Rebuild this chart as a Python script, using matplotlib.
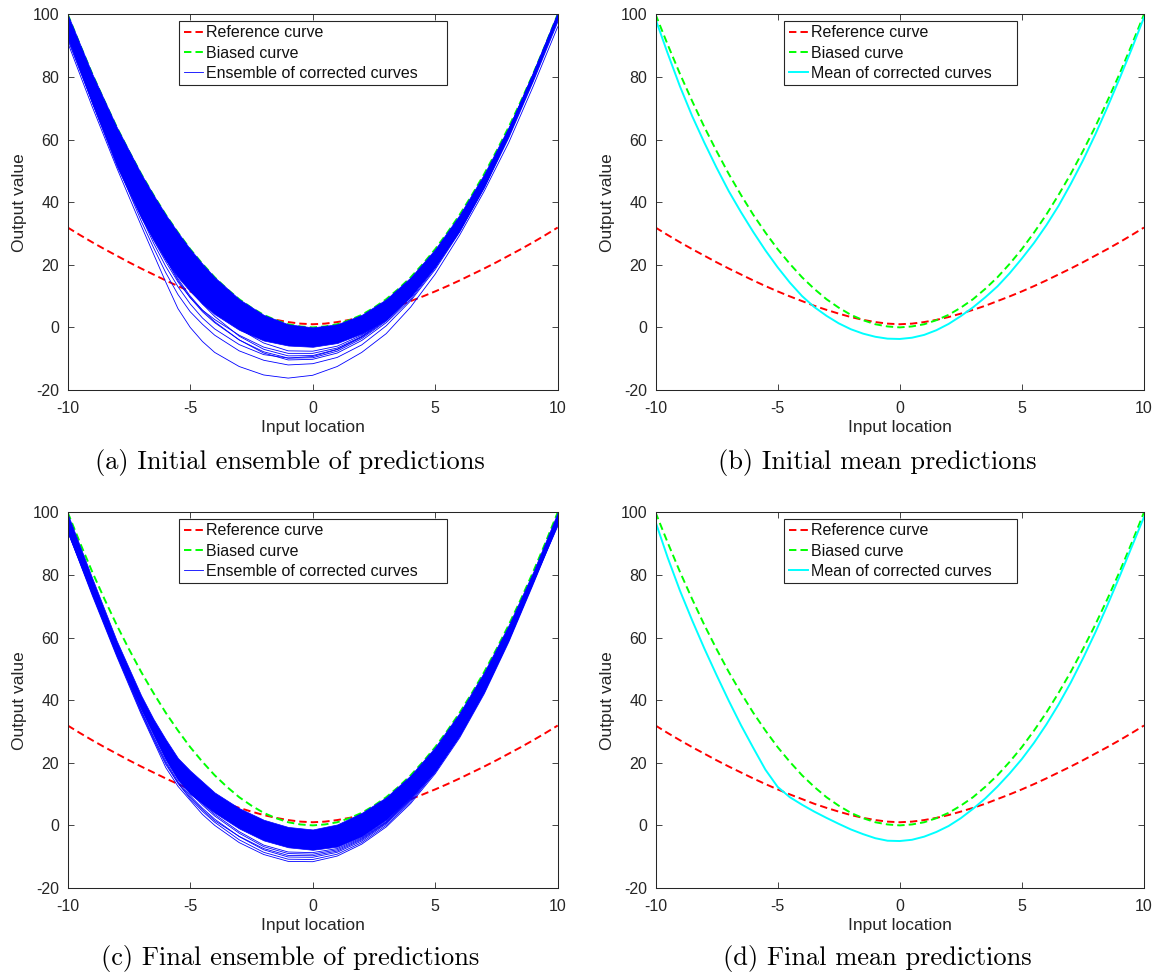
import numpy as np
import matplotlib
matplotlib.use("Agg")
import matplotlib.pyplot as plt

plt.rcParams['font.family'] = ['Liberation Sans', 'DejaVu Sans']
plt.rcParams['axes.unicode_minus'] = False

# x grids
x_fine = np.linspace(-10, 10, 41)
x_ens = [-10, -9, -8, -7, -6.5, -6, -5.5, -5, -4.5, -4, -3, -2, -1, 0, 1, 2, 3, 4, 5, 6, 7, 8, 9, 10]

# reference and biased curves (read on x_fine)
ref_curve = [31.9, 29.5, 27.2, 25.0, 22.9, 20.8, 18.8, 16.9, 15.0, 13.2, 11.5, 9.9, 8.4, 6.9, 5.6, 4.4, 3.3, 2.4, 1.7, 1.2,
             1.0,
             1.2, 1.7, 2.4, 3.3, 4.4, 5.6, 6.9, 8.4, 9.9, 11.5, 13.2, 15.0, 16.9, 18.8, 20.8, 22.9, 25.0, 27.2, 29.5, 31.9]
biased_curve = [100, 90.3, 81, 72.3, 64, 56.3, 49, 42.3, 36, 30.3, 25, 20.3, 16, 12.3, 9, 6.3, 4, 2.3, 1, 0.3,
                0,
                0.3, 1, 2.3, 4, 6.3, 9, 12.3, 16, 20.3, 25, 30.3, 36, 42.3, 49, 56.3, 64, 72.3, 81, 90.3, 100]

# mean of corrected curves
mean_initial = [98.5, 87.5, 77.0, 67.5, 59.0, 51.0, 43.5, 36.8, 30.5, 24.6, 19.2, 14.3, 10.0, 6.5, 3.7, 1.3, -0.6, -2.0, -3.0, -3.6,
                -3.7,
                -3.3, -2.4, -0.9, 1.1, 3.6, 6.4, 9.6, 13.1, 17.3, 22.0, 27.0, 32.6, 38.8, 45.8, 53.3, 61.5, 70.3, 79.5, 89.0, 99.0]
mean_final = [97.0, 85.5, 75.0, 65.5, 56.5, 48.0, 39.8, 32.0, 24.8, 17.8, 12.3, 9.0, 6.6, 4.4, 2.4, 0.5, -1.3, -2.8, -4.1, -4.9,
              -5.0,
              -4.6, -3.6, -2.1, -0.2, 2.3, 5.3, 8.6, 12.4, 16.6, 21.2, 26.4, 32.2, 38.6, 45.6, 53.3, 61.5, 70.3, 79.5, 89.0, 98.5]

# initial ensemble: dense band envelope + outlying members (read on x_ens)
band_a_upper = [100, 81, 64, 49, 42.3, 36, 30.3, 25, 20.3, 16, 9, 4, 1, 0, 1, 4, 9, 16, 25, 36, 49, 64, 81, 100]
band_a_lower = [93.5, 71.5, 51.5, 35, 28, 21.5, 16, 11.5, 7.5, 4.2, -0.8, -4.2, -5.8, -6.2, -5, -2, 2.5, 10, 19.5, 31, 45, 61.5, 79.5, 98.5]
ens_a = [
    [91, 70.5, 51, 32.5, 23.5, 14.5, 6, 0, -4.5, -8, -12.5, -15.2, -16.2, -15.3, -12.5, -8, -2, 6.5, 17, 29.5, 43.5, 59, 77, 96],
    [92, 72, 52.5, 34, 25.5, 17.5, 10.5, 5, 1, -2.5, -7.5, -10.5, -12, -11.6, -9.6, -5.6, 0.5, 8.5, 18.5, 30.5, 44.5, 60.5, 78.5, 97.5],
    [93, 73, 54, 37, 29, 22, 15.5, 10, 5.5, 1.8, -4, -8.2, -10.4, -10.2, -8.2, -4.2, 1.5, 9, 19, 31, 45, 61, 79, 98.5],
    [93.5, 73.5, 54.5, 37.5, 29.5, 22, 15, 9.5, 5, 1.5, -4, -7.8, -9.8, -9.7, -7.6, -3.6, 2, 9.5, 19.5, 31.5, 45.5, 61.5, 79.5, 99],
    [94, 74, 55.5, 39, 31, 24, 17.5, 12, 7.5, 3.5, -2.8, -7, -9.1, -9, -7, -3, 2.5, 10, 20, 32, 46, 62.5, 80.5, 99.5],
    [92.5, 72, 53, 36, 28, 21, 14.5, 9.5, 5.5, 2.5, -2.5, -6.3, -8.3, -8.3, -6.6, -2.9, 2.8, 10.5, 20.5, 32.5, 46.5, 63, 81, 100],
    [94.5, 75, 57, 40.5, 33, 26, 19.5, 14, 9.5, 5.5, -0.5, -5, -7.5, -7.6, -6, -2.5, 3, 10.5, 20.5, 32.5, 46.5, 63, 81, 100],
    [93, 72.5, 53, 35.5, 27, 19.5, 13, 7.5, 3, -0.5, -5.5, -8.7, -9.8, -9.3, -7.1, -3.2, 2.2, 9.8, 19.5, 31, 45, 61.5, 79.5, 98.5],
]

# final ensemble (read on x_ens)
band_c_upper = [99.5, 79, 59, 41.5, 34, 27.5, 21.5, 17.5, 14, 10.5, 5.5, 1.8, -0.5, -1.3, 0.3, 4, 9, 16, 25, 36, 49, 64, 81, 100]
band_c_lower = [93.5, 74, 54.5, 37, 29, 21, 14.5, 10, 7, 4, -1, -4.8, -7, -7.8, -6.8, -3.5, 1.8, 9, 17.5, 29, 43, 59.5, 78, 96]
ens_c = [
    [94, 73.5, 54, 35.5, 27, 18.5, 12.5, 8, 3.5, 0, -5.5, -9.3, -11.5, -11.6, -9.8, -6, -0.5, 7, 16.5, 28, 42, 58.5, 77, 96],
    [94.5, 74, 54.5, 36, 27.5, 19.5, 13.5, 8.5, 4.5, 1, -4.6, -8.6, -10.8, -10.9, -9.2, -5.5, 0, 7.5, 17, 28.5, 42.5, 59, 77.5, 96.5],
    [95, 74.5, 55, 36.5, 28.5, 20.5, 14, 9.5, 5.5, 2, -3.6, -7.8, -10.1, -10.2, -8.6, -5, 0.5, 8, 17, 28.5, 42.5, 59, 77.5, 96.5],
    [94, 74, 54.5, 36.5, 28, 20, 13.5, 9, 5, 1.5, -3.5, -7.4, -9.6, -9.7, -8.2, -4.6, 0.8, 8.3, 17.5, 29, 43, 59.5, 78, 97],
    [95.5, 75, 55.5, 37.5, 29.5, 21.5, 15, 10.5, 6.5, 3, -2.5, -6.8, -9.0, -9.2, -7.8, -4.3, 1.0, 8.5, 17.5, 29, 43, 59.5, 78, 97],
    [95, 75, 55.5, 38, 30, 22, 15.5, 10.8, 7, 3.5, -2, -6.3, -8.5, -8.7, -7.4, -4, 1.2, 8.8, 17.8, 29.2, 43.2, 59.8, 78.2, 97],
]

captions = ["(a) Initial ensemble of predictions", "(b) Initial mean predictions",
            "(c) Final ensemble of predictions", "(d) Final mean predictions"]

GRAY = '#262626'
W, H = 1164, 974
fig = plt.figure(figsize=(W / 100, H / 100), dpi=100)

# axes boxes in pixels: left, top, right, bottom
boxes = [(67.7, 14.3, 557.7, 390), (655.5, 14.3, 1144, 390),
         (67.7, 512.3, 557.7, 888), (655.5, 512.3, 1144, 888)]
axs = []
for l, t, r, b in boxes:
    axs.append(fig.add_axes([l / W, 1 - b / H, (r - l) / W, (b - t) / H]))

dash = (3.8, 2.1)


def base(ax):
    h1, = ax.plot(x_fine, ref_curve, color=(1, 0, 0), lw=1.4, ls=(0, dash), label='Reference curve')
    h2, = ax.plot(x_fine, biased_curve, color=(0, 1, 0), lw=1.4, ls=(0, dash), label='Biased curve')
    return [h1, h2]


def style(ax, handles, legx, legw):
    ax.set_xlim(-10, 10)
    ax.set_ylim(-20, 100)
    ax.set_xticks([-10, -5, 0, 5, 10])
    ax.set_yticks([-20, 0, 20, 40, 60, 80, 100])
    ax.tick_params(direction='in', top=True, right=True, length=4, width=0.6,
                   colors=GRAY, labelsize=11.5)
    ax.tick_params(axis='x', pad=8)
    ax.tick_params(axis='y', pad=6)
    for s in ax.spines.values():
        s.set_color(GRAY)
        s.set_linewidth(0.75)
    ax.set_xlabel('Input location', fontsize=12.5, color=GRAY, labelpad=3)
    ax.set_ylabel('Output value', fontsize=12.5, color=GRAY, labelpad=4)
    leg = ax.legend(handles=handles, loc='upper left', bbox_to_anchor=(legx, 0.5, legw, 0.483),
                    mode='expand', fontsize=11.5, fancybox=False, edgecolor=GRAY, framealpha=1,
                    borderpad=0.3, labelspacing=0.32, handlelength=1.2,
                    handletextpad=0.15, borderaxespad=0)
    leg.get_frame().set_linewidth(0.8)
    for txt in leg.get_texts():
        txt.set_color('#111111')


def ensemble(ax, x, upper, lower, members):
    # same zorder as the lines so the ensemble covers the curves drawn before it
    ax.fill_between(x, lower, upper, color=(0, 0, 1), lw=0.5, zorder=2)
    hs = []
    for m in members:
        h, = ax.plot(x, m, color=(0, 0, 1), lw=0.6, zorder=2)
        hs.append(h)
    hs[0].set_label('Ensemble of corrected curves')
    return hs[0]


# (a)
h = base(axs[0])
he = ensemble(axs[0], x_ens, band_a_upper, band_a_lower, ens_a)
style(axs[0], h + [he], 0.2278, 0.5457)

# (b)
h = base(axs[1])
hm, = axs[1].plot(x_fine, mean_initial, color=(0, 1, 1), lw=1.4, label='Mean of corrected curves')
style(axs[1], h + [hm], 0.2637, 0.4757)

# (c)
h = base(axs[2])
he = ensemble(axs[2], x_ens, band_c_upper, band_c_lower, ens_c)
style(axs[2], h + [he], 0.2278, 0.5457)

# (d)
h = base(axs[3])
hm, = axs[3].plot(x_fine, mean_final, color=(0, 1, 1), lw=1.4, label='Mean of corrected curves')
style(axs[3], h + [hm], 0.2637, 0.4757)

cap_pos = [(290, 462), (877, 462), (290, 958), (877, 958)]
for (cx, cy), cap in zip(cap_pos, captions):
    fig.text(cx / W, 1 - cy / H, cap, ha='center', va='center', fontsize=19, family='cmr10')

plt.savefig('out.png', dpi=100)
